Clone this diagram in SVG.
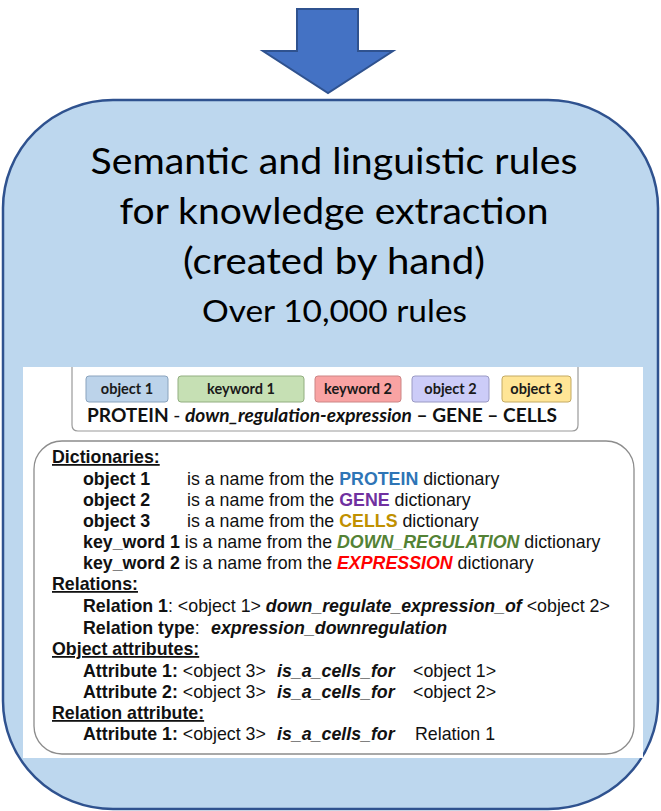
<svg xmlns="http://www.w3.org/2000/svg" width="661" height="811" viewBox="0 0 661 811">
  <style>
    .title { font-family: Lato, "Open Sans", "Liberation Sans", sans-serif; fill: #000; text-anchor: middle; }
    .chip { stroke-width: 1; }
    .chiptxt { font-family: Lato, "Open Sans", "Liberation Sans", sans-serif; font-weight: bold; font-size: 14.5px; fill: #1a1a1a; text-anchor: middle; }
    .sent { font-family: Lato, "Open Sans", "Liberation Sans", sans-serif; font-weight: bold; font-size: 19px; fill: #111; }
    .t { font-family: "Liberation Sans", Arial, sans-serif; font-size: 17.8px; fill: #111; }
    .b { font-weight: bold; }
    .bi { font-weight: bold; font-style: italic; }
    .h { font-weight: bold; text-decoration: underline; }
  </style>

  <!-- incoming arrow -->
  <g id="arrow">
    <polygon points="297,9 358,9 358,51 393,51 328,93 263,51 297,51" fill="#4472C4" stroke="#2F528F" stroke-width="2" stroke-linejoin="miter"/>
  </g>

  <!-- rules container -->
  <g id="rules-box">
    <rect x="3" y="100" width="655" height="709" rx="110" ry="108" fill="#BDD7EE" stroke="#2F528F" stroke-width="2.5"/>
    <text class="title" x="334" y="174" font-size="37" textLength="487" lengthAdjust="spacingAndGlyphs">Semantic and linguistic rules</text>
    <text class="title" x="334" y="224" font-size="37" textLength="429" lengthAdjust="spacingAndGlyphs">for knowledge extraction</text>
    <text class="title" x="334" y="274" font-size="37" textLength="302" lengthAdjust="spacingAndGlyphs">(created by hand)</text>
    <text class="title" x="334.5" y="322" font-size="30" textLength="265" lengthAdjust="spacingAndGlyphs">Over 10,000 rules</text>
  </g>

  <!-- example rule panel -->
  <g id="rule-panel">
    <rect x="23" y="367" width="620" height="391" fill="#FFFFFF"/>

    <!-- pattern box -->
    <g id="pattern">
      <path d="M72,367 V425 Q72,431 78,431 H572 Q578,431 578,425 V367" fill="none" stroke="#9a9a9a" stroke-width="1.2"/>
      <rect class="chip" x="86" y="376" width="82" height="26" rx="3" fill="#BCD3EA" stroke="#8AA3BD"/>
      <rect class="chip" x="178" y="376" width="126" height="26" rx="3" fill="#C6E0B4" stroke="#92AE80"/>
      <rect class="chip" x="315" y="376" width="86" height="26" rx="3" fill="#F9A3A3" stroke="#CC8585"/>
      <rect class="chip" x="412" y="376" width="77" height="26" rx="3" fill="#CCCCF8" stroke="#9A9AC4"/>
      <rect class="chip" x="502" y="376" width="69" height="26" rx="3" fill="#FFE596" stroke="#C4AA62"/>
      <text class="chiptxt" x="127" y="394">object 1</text>
      <text class="chiptxt" x="241" y="394">keyword 1</text>
      <text class="chiptxt" x="358" y="394">keyword 2</text>
      <text class="chiptxt" x="450.5" y="394">object 2</text>
      <text class="chiptxt" x="536.5" y="394">object 3</text>
      <text class="sent" x="87" y="422" textLength="470" lengthAdjust="spacingAndGlyphs">PROTEIN <tspan font-weight="normal">-</tspan> <tspan font-style="italic">down_regulation-expression</tspan> – GENE  –  CELLS</text>
    </g>

    <!-- definitions box -->
    <g id="definitions">
      <rect x="34" y="441" width="600" height="313" rx="28" ry="28" fill="#FFFFFF" stroke="#8c8c8c" stroke-width="1.3"/>

      <text class="t h" x="52" y="463">Dictionaries:</text>
      <text class="t b" x="83" y="485">object 1</text>
      <text class="t" x="187" y="485">is a name from the <tspan class="b" fill="#2E75B6">PROTEIN</tspan> dictionary</text>
      <text class="t b" x="83" y="506">object 2</text>
      <text class="t" x="187" y="506">is a name from the <tspan class="b" fill="#7030A0">GENE</tspan> dictionary</text>
      <text class="t b" x="83" y="527">object 3</text>
      <text class="t" x="187" y="527">is a name from the <tspan class="b" fill="#C09000">CELLS</tspan> dictionary</text>
      <text class="t" x="83" y="548"><tspan class="b">key_word 1</tspan> is a name from the <tspan class="bi" fill="#548235">DOWN_REGULATION</tspan> dictionary</text>
      <text class="t" x="83" y="569"><tspan class="b">key_word 2</tspan> is a name from the <tspan class="bi" fill="#FF0000">EXPRESSION</tspan> dictionary</text>

      <text class="t h" x="52" y="590">Relations:</text>
      <text class="t" x="83" y="612"><tspan class="b">Relation 1</tspan>: &lt;object 1&gt; <tspan class="bi">down_regulate_expression_of</tspan> &lt;object 2&gt;</text>
      <text class="t" x="83" y="634"><tspan class="b">Relation type</tspan>:</text>
      <text class="t bi" x="211" y="634">expression_downregulation</text>

      <text class="t h" x="52" y="655">Object attributes:</text>
      <text class="t" x="83" y="677"><tspan class="b">Attribute 1:</tspan> &lt;object 3&gt;</text>
      <text class="t bi" x="277" y="677">is_a_cells_for</text>
      <text class="t" x="413" y="677">&lt;object 1&gt;</text>
      <text class="t" x="83" y="698"><tspan class="b">Attribute 2:</tspan> &lt;object 3&gt;</text>
      <text class="t bi" x="277" y="698">is_a_cells_for</text>
      <text class="t" x="413" y="698">&lt;object 2&gt;</text>

      <text class="t h" x="52" y="719">Relation attribute:</text>
      <text class="t" x="83" y="740"><tspan class="b">Attribute 1:</tspan> &lt;object 3&gt;</text>
      <text class="t bi" x="277" y="740">is_a_cells_for</text>
      <text class="t" x="415" y="740">Relation 1</text>
    </g>
  </g>
</svg>
